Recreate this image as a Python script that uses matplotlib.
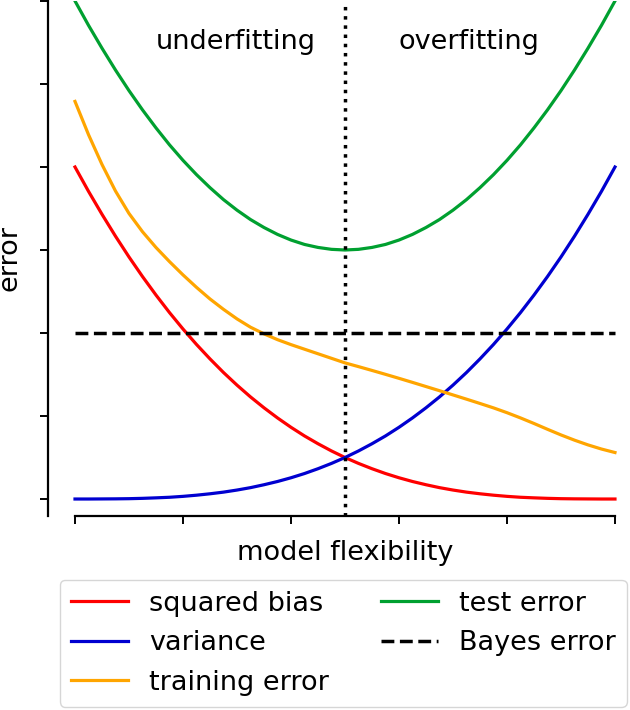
import matplotlib
matplotlib.use('Agg')
import matplotlib.pyplot as plt

## data
flexibility = [0.0, 0.025, 0.05, 0.075, 0.1, 0.125, 0.15, 0.175, 0.2, 0.225,
               0.25, 0.275, 0.3, 0.325, 0.35, 0.375, 0.4, 0.425, 0.45, 0.475,
               0.5, 0.525, 0.55, 0.575, 0.6, 0.625, 0.65, 0.675, 0.7, 0.725,
               0.75, 0.775, 0.8, 0.825, 0.85, 0.875, 0.9, 0.925, 0.95, 0.975, 1.0]
squared_bias = [4.0, 3.707, 3.43, 3.166, 2.916, 2.68, 2.457, 2.246, 2.048, 1.862,
                1.688, 1.524, 1.372, 1.23, 1.099, 0.977, 0.864, 0.76, 0.666, 0.579,
                0.5, 0.429, 0.365, 0.307, 0.256, 0.211, 0.172, 0.137, 0.108, 0.083,
                0.063, 0.046, 0.032, 0.021, 0.014, 0.008, 0.004, 0.002, 0.001, 0.0, 0.0]
variance = [0.0, 0.0, 0.001, 0.002, 0.004, 0.008, 0.014, 0.021, 0.032, 0.046,
            0.063, 0.083, 0.108, 0.137, 0.172, 0.211, 0.256, 0.307, 0.365, 0.429,
            0.5, 0.579, 0.666, 0.76, 0.864, 0.977, 1.099, 1.23, 1.372, 1.524,
            1.688, 1.862, 2.048, 2.246, 2.457, 2.68, 2.916, 3.166, 3.43, 3.707, 4.0]
training_error = [4.79, 4.39, 4.03, 3.71, 3.44, 3.22, 3.03, 2.86, 2.70, 2.55,
                  2.41, 2.285, 2.17, 2.07, 1.99, 1.92, 1.86, 1.805, 1.75, 1.695,
                  1.64, 1.595, 1.549, 1.502, 1.454, 1.405, 1.355, 1.305, 1.254, 1.203,
                  1.151, 1.098, 1.04, 0.977, 0.91, 0.84, 0.772, 0.709, 0.652, 0.602, 0.56]
test_error = [6.0, 5.707, 5.431, 5.168, 4.92, 4.688, 4.471, 4.267, 4.08, 3.908,
              3.751, 3.607, 3.48, 3.367, 3.271, 3.188, 3.12, 3.067, 3.031, 3.008,
              3.0, 3.008, 3.031, 3.067, 3.12, 3.188, 3.271, 3.367, 3.48, 3.607,
              3.751, 3.908, 4.08, 4.267, 4.471, 4.688, 4.92, 5.168, 5.431, 5.707, 6.0]
bayes_x = [0.0, 1.0]
bayes_error = [2.0, 2.0]
split_x = 0.5
x_ticks = [0.0, 0.2, 0.4, 0.6, 0.8, 1.0]
y_ticks = [0, 1, 2, 3, 4, 5, 6]

fig = plt.figure(figsize=(6.3, 7.1), dpi=100)
ax = fig.add_axes([0.0762, 0.2732, 0.9171, 0.7254])

ax.plot(flexibility, squared_bias, color='#ff0000', lw=2.3, label='squared bias')
ax.plot(flexibility, variance, color='#0000d0', lw=2.3, label='variance')
ax.plot(flexibility, training_error, color='#ffa500', lw=2.3, label='training error')
ax.plot(flexibility, test_error, color='#00a030', lw=2.3, label='test error')
ax.plot(bayes_x, bayes_error, color='black', lw=2.5, ls='--', label='Bayes error')
ax.axvline(split_x, color='black', lw=2.5, ls=':')

ax.text(0.298, 5.5, 'underfitting', fontsize=19.5, ha='center', va='center')
ax.text(0.73, 5.5, 'overfitting', fontsize=19.5, ha='center', va='center')

ax.set_xlim(-0.05, 1.02)
ax.set_ylim(-0.205, 6.0)
ax.set_xticks(x_ticks)
ax.set_yticks(y_ticks)
ax.set_xticklabels([])
ax.set_yticklabels([])
ax.tick_params(length=6, width=1.4)

ax.spines['top'].set_visible(False)
ax.spines['right'].set_visible(False)
ax.spines['left'].set_linewidth(1.6)
ax.spines['bottom'].set_linewidth(1.6)
ax.spines['bottom'].set_bounds(0, 1)

fig.text(345 / 630, 1 - 553 / 710, 'model flexibility', fontsize=19.5, ha='center', va='center')
fig.text(9 / 630, 1 - 258 / 710, 'error', fontsize=19.5, rotation=90, ha='center', va='center')

ax.legend(loc='upper left', bbox_to_anchor=(60 / 630, 1 - 580 / 710),
          bbox_transform=fig.transFigure, ncol=2, fontsize=19.5, handlelength=2.1,
          columnspacing=1.9, borderaxespad=0, labelspacing=0.5, handletextpad=0.8)

plt.savefig('out.png', dpi=100)
